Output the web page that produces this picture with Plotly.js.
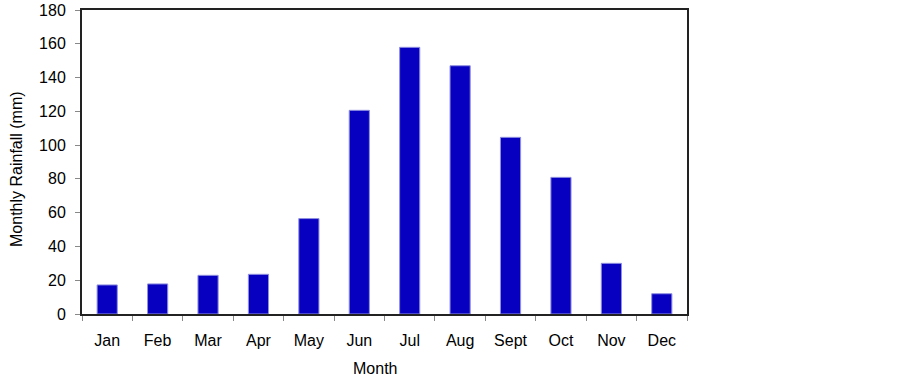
<!DOCTYPE html>
<html><head><meta charset="utf-8">
<script src="https://cdn.plot.ly/plotly-3.0.1.min.js"></script>
<style>html,body{margin:0;padding:0;background:#fff}#c{width:903px;height:381px}</style>
</head><body><div id="c"></div>
<script>
const months = ["Jan","Feb","Mar","Apr","May","Jun","Jul","Aug","Sept","Oct","Nov","Dec"];
const rainfall = [17.2, 17.8, 22.9, 23.5, 56.5, 120.6, 157.9, 147.0, 104.6, 80.9, 30.0, 12.0];
const yTicks = [0,20,40,60,80,100,120,140,160,180];
const xTitle = "Month";
const yTitle = "Monthly Rainfall (mm)";

const font = {family: "Liberation Sans, Arial, sans-serif", size: 16, color: "#000"};
Plotly.newPlot("c", [{
  type: "bar", x: months, y: rainfall,
  marker: {color: "#0800C0", line: {color: "#9090e0", width: 1}},
  width: 0.4, hoverinfo: "none"
}], {
  width: 903, height: 381,
  margin: {l: 82, r: 216, t: 10, b: 67},
  paper_bgcolor: "#fff", plot_bgcolor: "#fff",
  font: font, showlegend: false,
  xaxis: {
    tickson: "boundaries", ticks: "outside", ticklen: 5, tickcolor: "#888", tickwidth: 1,
    showline: true, linecolor: "#222", linewidth: 2, mirror: true,
    showgrid: false, zeroline: false, ticklabelstandoff: 11
  },
  yaxis: {
    range: [0, 180], tickvals: yTicks, ticks: "outside", ticklen: 5, tickcolor: "#888",
    showline: true, linecolor: "#222", linewidth: 2, mirror: true,
    showgrid: false, zeroline: false, ticklabelstandoff: 6
  },
  annotations: [
    {text: xTitle, xref: "paper", yref: "paper", x: 0.484, y: 0, xanchor: "center", yanchor: "middle",
     yshift: -54, showarrow: false, font: font},
    {text: yTitle, xref: "paper", yref: "paper", x: 0, y: 0.477, xanchor: "center", yanchor: "middle",
     xshift: -65, textangle: -90, showarrow: false, font: font}
  ]
}, {staticPlot: true});
</script></body></html>
